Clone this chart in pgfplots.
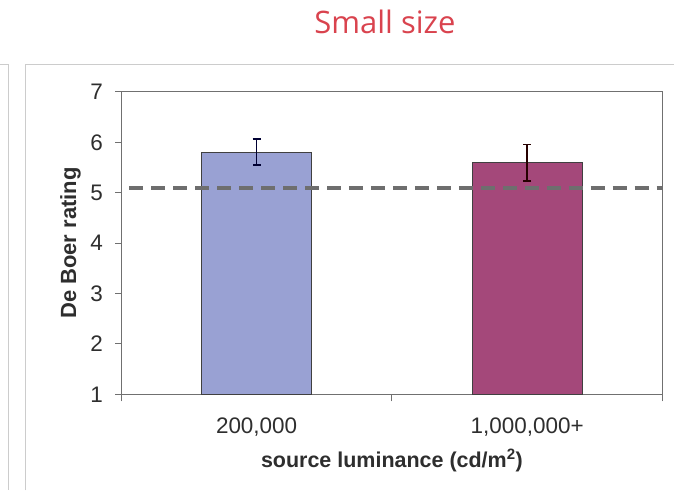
\documentclass[border=0pt]{standalone}
\usepackage{pgfplots}
\pgfplotsset{compat=1.18}
\usepackage{fontspec}
\setmainfont{Liberation Sans}
\newfontfamily\titlefont{Open Sans}
\definecolor{barA}{HTML}{99A1D3}
\definecolor{barB}{HTML}{A4487A}
\definecolor{dashc}{HTML}{6E6E6E}
\definecolor{txt}{HTML}{2E2E2E}
\definecolor{framec}{HTML}{CCCCCC}
\definecolor{titlered}{HTML}{D9434E}
\definecolor{axc}{HTML}{707070}
\begin{document}
\begin{tikzpicture}
\begin{axis}[
  name=main, anchor=origin, at={(0pt,0pt)}, scale only axis,
  width=542pt, height=303pt,
  xmin=-0.5, xmax=1.5, ymin=1, ymax=7,
  ytick={1,2,3,4,5,6,7},
  xtick={0,1}, xticklabels={{200,000},{1,000,000+}},
  xtick pos=bottom, ytick pos=left,
  xtick style={draw=none},
  extra x ticks={-0.5,0.5,1.5}, extra x tick labels={},
  extra x tick style={xtick style={draw=axc, line width=1pt}, major tick length=7pt, tick align=outside, xtick pos=bottom},
  ytick style={draw=axc, line width=1pt},
  tick align=outside, major tick length=6pt,
  axis line style={axc, line width=1pt},
  /pgf/number format/assume math mode=true,
  ticklabel style={font=\fontsize{22.5}{26}\selectfont, text=txt},
  yticklabel style={xshift=-9pt},
  xticklabel style={yshift=-14pt},
  every axis y label/.style={at={(rel axis cs:0,0.5)}, xshift=-51pt, rotate=90, anchor=center, font=\fontsize{22}{26}\selectfont\bfseries, text=txt},
  every axis x label/.style={at={(rel axis cs:0.5,0)}, yshift=-66pt, anchor=center, font=\fontsize{21.5}{26}\selectfont\bfseries, text=txt},
  ylabel={De Boer rating},
  xlabel={source luminance (cd/m\textsuperscript{2})},
  ybar, bar width=110pt, bar shift=0pt,
  clip=false,
]
\addplot[fill=barA, draw=black!75, line width=1.2pt,
  error bars/.cd, y dir=both, y explicit,
  error bar style={color=black!80!blue, line width=1.5pt},
  error mark options={rotate=90, mark size=4pt, line width=1.5pt, color=black!80!blue}]
  coordinates {(0,5.8) += (0,0.27) -= (0,0.25)};
\addplot[fill=barB, draw=black!75, line width=1.2pt,
  error bars/.cd, y dir=both, y explicit,
  error bar style={color=black!85!red, line width=1.5pt},
  error mark options={rotate=90, mark size=4pt, line width=1.5pt, color=black!85!red}]
  coordinates {(1,5.6) += (0,0.36) -= (0,0.37)};
\addplot[sharp plot, dashc, line width=4pt, dash pattern=on 14pt off 8pt, dash phase=14pt, forget plot]
  coordinates {(-0.5,5.1) (1.5,5.1)};
\end{axis}
\begin{scope}[shift={(main.south west)}, xshift=-121pt, yshift=-96pt, x=1pt, y=1pt]
\draw[framec, line width=1pt] (0,426) -- (8,426) -- (8,0);
\draw[framec, line width=1pt] (25,0) -- (25,426) -- (674,426);
\node[font=\titlefont\fontsize{31}{36}\selectfont, text=titlered, anchor=base] at (385,457) {Small size};
\useasboundingbox (0,0) rectangle (674,491);
\end{scope}
\end{tikzpicture}
\end{document}
